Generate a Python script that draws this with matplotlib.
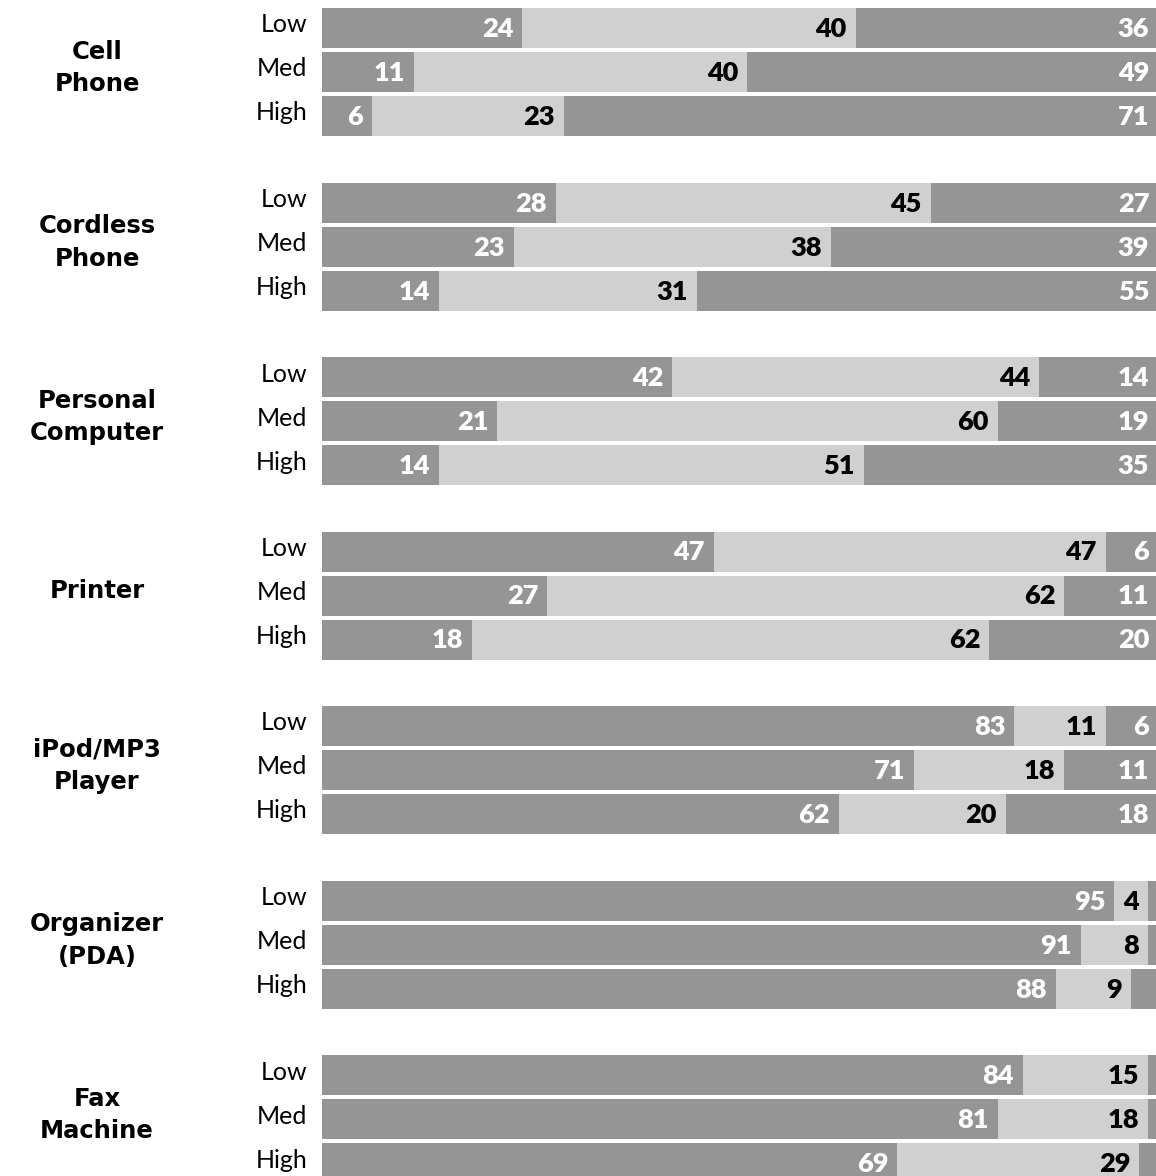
import matplotlib
matplotlib.use("Agg")
import matplotlib.pyplot as plt
import numpy as np

categories = ["Cell\nPhone", "Cordless\nPhone", "Personal\nComputer", "Printer",
              "iPod/MP3\nPlayer", "Organizer\n(PDA)", "Fax\nMachine"]
levels = ["Low", "Med", "High"]
# three stacked segments per row (percent)
seg1 = [[24, 11, 6], [28, 23, 14], [42, 21, 14], [47, 27, 18], [83, 71, 62], [95, 91, 88], [84, 81, 69]]
seg2 = [[40, 40, 23], [45, 38, 31], [44, 60, 51], [47, 62, 62], [11, 18, 20], [4, 8, 9], [15, 18, 29]]
seg3 = [[36, 49, 71], [27, 39, 55], [14, 19, 35], [6, 11, 20], [6, 11, 18], [1, 1, 3], [1, 1, 2]]
show3 = [[True, True, True]] * 5 + [[False, False, False]] * 2

W, H = 1156, 1176
fig = plt.figure(figsize=(W / 100, H / 100), dpi=100)
x0 = 322
ax = fig.add_axes([x0 / W, 0, (W - x0) / W, 1])
ax.set_xlim(0, 100)
ax.set_ylim(H, 0)
ax.axis("off")

dark = "#959595"
light = "#d0d0d0"
pitch = 174.5
rstep = 44.0
bh = 40
px = 100 / (W - x0)  # data units per pixel
pad = 9 * px
fs = 19.5
numfont = dict(family="Lato", weight="heavy", fontsize=fs)

for g in range(len(categories)):
    for i in range(3):
        yc = 28 + g * pitch + i * rstep
        a, b, c = seg1[g][i], seg2[g][i], seg3[g][i]
        ax.barh(yc, a, left=0, height=bh, color=dark, linewidth=0)
        ax.barh(yc, b, left=a, height=bh, color=light, linewidth=0)
        ax.barh(yc, c, left=a + b, height=bh, color=dark, linewidth=0)
        ax.text(a - pad, yc + 1, str(a), ha="right", va="center", color="white", **numfont)
        ax.text(a + b - pad, yc + 1, str(b), ha="right", va="center", color="black", **numfont)
        if show3[g][i]:
            ax.text(a + b + c - 0.8, yc + 1, str(c), ha="right", va="center", color="white", **numfont)
        ax.text(-15 * px, yc - 3, levels[i], ha="right", va="center", color="black",
                family="Lato", fontsize=18, clip_on=False)
    gc = 28 + g * pitch + rstep - 4
    fig.text(97 / W, 1 - gc / H, categories[g], ha="center", va="center",
             family="DejaVu Sans", weight="bold", fontsize=17.5, linespacing=1.45)

fig.savefig("out.png", dpi=100, facecolor="white")
